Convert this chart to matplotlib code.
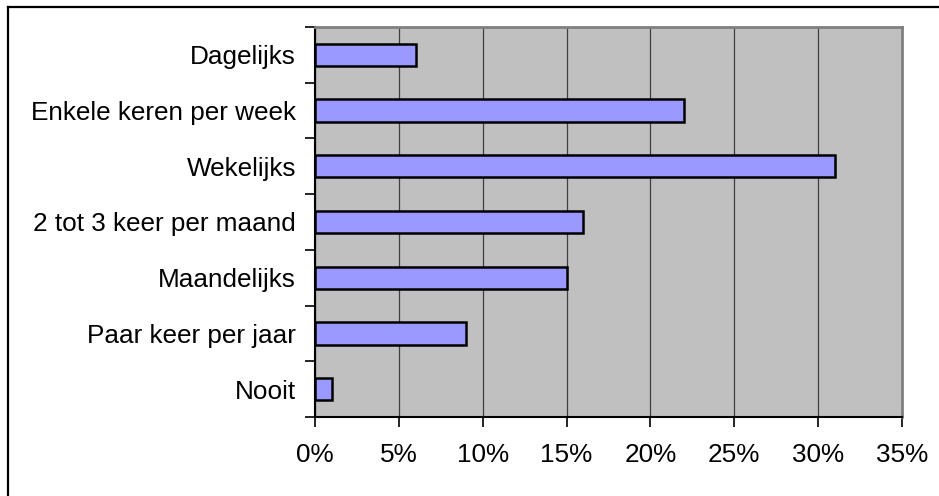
import matplotlib.pyplot as plt
import matplotlib.ticker as mticker
from matplotlib.lines import Line2D

plt.rcParams['font.family'] = ['Liberation Sans', 'DejaVu Sans']

categories = ['Dagelijks', 'Enkele keren per week', 'Wekelijks',
              '2 tot 3 keer per maand', 'Maandelijks', 'Paar keer per jaar', 'Nooit']
values = [6, 22, 31, 16, 15, 9, 1]
x_ticks = [0, 5, 10, 15, 20, 25, 30, 35]

fig = plt.figure(figsize=(9.39, 4.96), dpi=100)
ax = fig.add_axes([315 / 939, 1 - 417 / 496, 587 / 939, 390 / 496])

ypos = list(range(len(categories)))
ax.barh(ypos, values, height=0.4, color='#9999FF', edgecolor='black', linewidth=1.8, zorder=3)

ax.set_facecolor('#C0C0C0')
ax.set_xlim(0, 35)
ax.set_ylim(len(categories) - 0.5, -0.5)

# vertical gridlines
ax.set_xticks(x_ticks)
ax.xaxis.set_major_formatter(mticker.FuncFormatter(lambda v, p: f'{v:.0f}%'))
ax.grid(axis='x', color='#404040', linewidth=0.9, zorder=1)
ax.set_axisbelow(True)

# category labels between tick marks
ax.set_yticks([i - 0.5 for i in range(len(categories) + 1)])
ax.set_yticklabels([])
ax.set_yticks(ypos, minor=True)
ax.set_yticklabels(categories, minor=True)
ax.tick_params(axis='y', which='major', length=7, width=1.2, direction='out', color='black')
ax.tick_params(axis='y', which='minor', length=0, pad=13.7, labelsize=18.8)
ax.tick_params(axis='x', length=7, width=1.2, direction='out', pad=12, labelsize=18.8)

for side in ['left', 'bottom']:
    ax.spines[side].set_color('black')
    ax.spines[side].set_linewidth(1.5)
for side in ['top', 'right']:
    ax.spines[side].set_color('#808080')
    ax.spines[side].set_linewidth(2)

# outer chart border (only top and left edges visible)
fig.add_artist(Line2D([7.5 / 939, 7.5 / 939], [0, 1 - 7 / 496], transform=fig.transFigure,
                      color='black', linewidth=1.6))
fig.add_artist(Line2D([7.5 / 939, 1], [1 - 7 / 496, 1 - 7 / 496], transform=fig.transFigure,
                      color='black', linewidth=1.6))

fig.savefig('out.png', dpi=100)
